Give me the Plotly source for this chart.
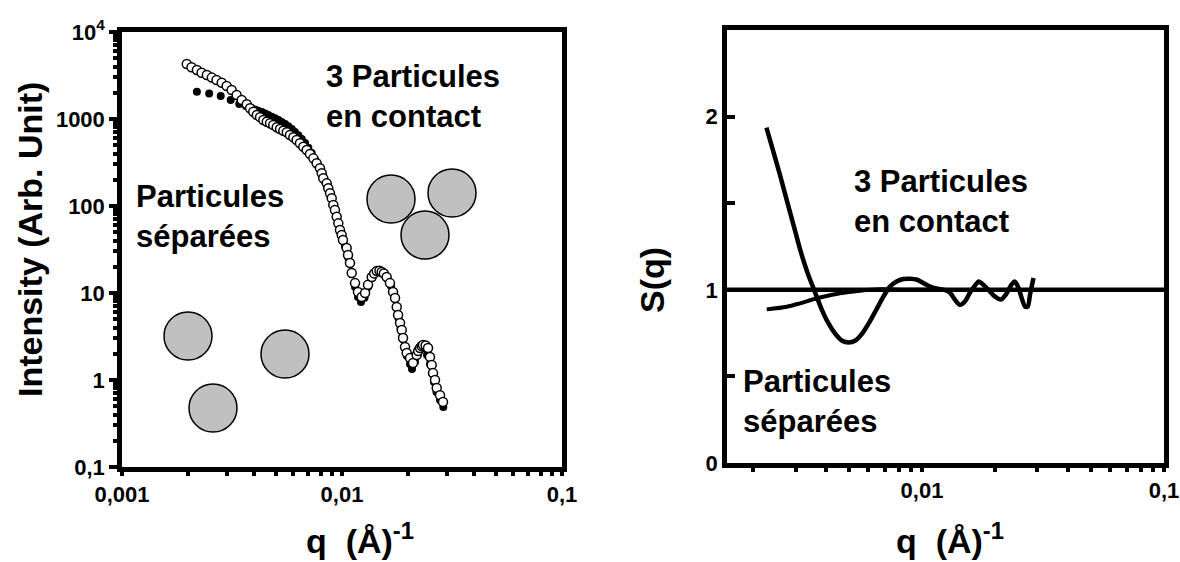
import plotly.graph_objects as go

# ---------------- data ----------------
# Left panel: scattered intensity, open circles (3 particles in contact)
q_open = [0.00197, 0.00207, 0.00219, 0.00230, 0.00243, 0.00256, 0.00269, 0.00284, 0.00299, 0.00315,
          0.00332, 0.00350, 0.00369, 0.00382, 0.00395, 0.00410, 0.00424, 0.00439, 0.00455, 0.00471,
          0.00487, 0.00505, 0.00523, 0.00541, 0.00561, 0.00580, 0.00601, 0.00622, 0.00644, 0.00667,
          0.00691, 0.00715, 0.00741, 0.00767, 0.00794, 0.00809, 0.00822, 0.00852, 0.00866, 0.00882,
          0.00898, 0.00913, 0.00929, 0.00946, 0.00962, 0.00979, 0.00997, 0.01010, 0.01050, 0.01065,
          0.01087, 0.01107, 0.01146, 0.01182, 0.01229, 0.01273, 0.01313, 0.01365, 0.01400, 0.01438,
          0.01480, 0.01515, 0.01550, 0.01596, 0.01652, 0.01706, 0.01742, 0.01773, 0.01798, 0.01836,
          0.01869, 0.01894, 0.01934, 0.01969, 0.02038, 0.02103, 0.02186, 0.02220, 0.02263, 0.02300,
          0.02334, 0.02400, 0.02460, 0.02512, 0.02557, 0.02592, 0.02647, 0.02695, 0.02790, 0.02878]
I_open = [4290, 3930, 3660, 3400, 3200, 2990, 2810, 2610, 2400, 2150,
          1890, 1650, 1480, 1330, 1210, 1110, 1050, 974, 931, 892,
          853, 803, 767, 734, 703, 655, 616, 574, 526, 480,
          440, 396, 353, 310, 271, 238, 208, 182, 160, 140,
          123, 103, 90, 75.3, 63.2, 53.0, 46.4, 40.7, 32.9, 27.3,
          22.1, 17.0, 13.0, 10.3, 9.0, 10.0, 12.4, 15.3, 16.8, 17.9,
          18.0, 17.4, 16.8, 15.3, 13.0, 10.3, 8.76, 6.90, 5.59, 4.52,
          3.75, 3.04, 2.39, 2.04, 1.79, 1.57, 1.94, 2.15, 2.33, 2.45,
          2.53, 2.50, 2.33, 1.84, 1.49, 1.20, 1.00, 0.81, 0.67, 0.56]

# Left panel: filled circles (separated particles)
q_filled = [0.00219, 0.00249, 0.00281, 0.00312, 0.00341, 0.00366, 0.00386, 0.00402, 0.00416, 0.00432,
            0.00447, 0.00462, 0.00479, 0.00496, 0.00514, 0.00532, 0.00551, 0.00570, 0.00591, 0.00611,
            0.00633, 0.00656, 0.00679, 0.00703, 0.00728, 0.00754, 0.00780, 0.00809, 0.00837, 0.00866,
            0.00898, 0.00929, 0.00962, 0.00997, 0.01032, 0.01068, 0.01107, 0.01146, 0.01182, 0.01220,
            0.01266, 0.01313, 0.01369, 0.01442, 0.01520, 0.01601, 0.01670, 0.01724, 0.01769, 0.01806,
            0.01845, 0.01884, 0.01924, 0.01975, 0.02038, 0.02081, 0.02148, 0.02216, 0.02286, 0.02359,
            0.02434, 0.02512, 0.02565, 0.02619, 0.02688, 0.02790, 0.02887]
I_filled = [2060, 1970, 1840, 1650, 1490, 1410, 1340, 1290, 1245, 1204,
            1157, 1112, 1063, 1019, 974, 924, 876, 824, 767, 709,
            649, 589, 530, 468, 407, 342, 288, 239, 194, 157,
            124, 90, 63.8, 46.4, 34.7, 25.3, 17.4, 11.7, 9.0, 7.9,
            8.8, 11.7, 14.9, 17.4, 17.0, 14.9, 12.0, 9.0, 6.72, 5.16,
            3.96, 3.12, 2.39, 1.89, 1.53, 1.34, 1.61, 1.99, 2.27, 2.33,
            1.94, 1.53, 1.20, 0.95, 0.73, 0.59, 0.49]

# Right panel: structure factors
q_contact = [0.002275, 0.002427, 0.002595, 0.002767, 0.002952, 0.003149, 0.003363, 0.003589, 0.003833, 0.004090,
             0.004366, 0.004659, 0.004973, 0.005308, 0.005666, 0.006044, 0.006454, 0.006886, 0.007355, 0.007852,
             0.008375, 0.008935, 0.009545, 0.01019, 0.01087, 0.01160, 0.01239, 0.01301, 0.01366, 0.01434,
             0.01506, 0.01581, 0.01660, 0.01714, 0.01800, 0.01891, 0.01986, 0.02119, 0.02226, 0.02336,
             0.02415, 0.02495, 0.02577, 0.02665, 0.02735, 0.02797, 0.02889]
S_contact = [1.936, 1.800, 1.657, 1.512, 1.368, 1.223, 1.099, 0.996, 0.893, 0.810,
             0.748, 0.707, 0.696, 0.707, 0.748, 0.810, 0.882, 0.955, 1.017, 1.048,
             1.062, 1.064, 1.058, 1.037, 1.017, 1.006, 1.000, 0.986, 0.944, 0.913,
             0.934, 0.986, 1.027, 1.048, 1.027, 0.996, 0.965, 0.944, 0.975, 1.027,
             1.048, 1.017, 0.955, 0.903, 0.903, 0.975, 1.068]

q_sep = [0.002282, 0.002761, 0.003133, 0.003673, 0.004584, 0.005546, 0.006705, 0.0085, 0.011]
S_sep = [0.887, 0.902, 0.922, 0.951, 0.980, 0.995, 1.003, 1.000, 1.000]

S_reference = 1.0

# tick labels
left_x_ticks = [0.001, 0.01, 0.1]
left_x_text = ["0,001", "0,01", "0,1"]
left_y_ticks = [0.1, 1, 10, 100, 1000, 10000]
left_y_text = ["0,1", "1", "10", "100", "1000", "10<sup>4</sup>"]
right_x_ticks = [0.01, 0.1]
right_x_text = ["0,01", "0,1"]
right_y_ticks = [0, 1, 2]
right_y_text = ["0", "1", "2"]
right_y_minor = [0.5, 1.5]

# ---------------- layout helpers ----------------
W, H = 1180, 562


def px(x):
    return x / W


def py(y):
    return 1 - y / H


FONT = "Liberation Sans, Arial, Helvetica, sans-serif"
BLACK = "black"
tick_font = dict(family=FONT, size=22, color=BLACK, weight="bold")

minor_x = [m * 10.0 ** e for e in (-3, -2) for m in range(2, 10)]
minor_y = [m * 10.0 ** e for e in range(-1, 4) for m in range(2, 10)]

fig = go.Figure()

fig.add_trace(go.Scatter(x=q_filled, y=I_filled, mode="markers", xaxis="x", yaxis="y",
                         marker=dict(symbol="circle", size=8, color=BLACK, line=dict(width=0)),
                         showlegend=False, hoverinfo="skip"))
fig.add_trace(go.Scatter(x=q_open, y=I_open, mode="markers", xaxis="x", yaxis="y",
                         marker=dict(symbol="circle", size=9, color="white", line=dict(width=1.5, color=BLACK)),
                         showlegend=False, hoverinfo="skip"))
fig.add_trace(go.Scatter(x=q_sep, y=S_sep, mode="lines", xaxis="x2", yaxis="y2",
                         line=dict(color=BLACK, width=4, shape="spline", smoothing=0.8),
                         showlegend=False, hoverinfo="skip"))
fig.add_trace(go.Scatter(x=q_contact, y=S_contact, mode="lines", xaxis="x2", yaxis="y2",
                         line=dict(color=BLACK, width=4.5, shape="spline", smoothing=0.7),
                         showlegend=False, hoverinfo="skip"))

common = dict(showline=True, linewidth=4.5, linecolor=BLACK, mirror=True, showgrid=False,
              zeroline=False, tickcolor=BLACK, tickfont=tick_font, tickmode="array",
              automargin=False)

fig.update_layout(
    template="none",
    width=W, height=H,
    margin=dict(l=0, r=0, t=0, b=0, pad=0),
    paper_bgcolor="white", plot_bgcolor="white",
    showlegend=False,
    xaxis=dict(type="log", range=[-3, -1], domain=[px(122), px(562)], anchor="y",
               tickvals=left_x_ticks, ticktext=left_x_text, ticks="outside", ticklen=4, tickwidth=4,
               minor=dict(tickmode="array", tickvals=minor_x, ticks="outside", ticklen=4, tickwidth=4,
                          tickcolor=BLACK),
               **common),
    yaxis=dict(type="log", range=[-1, 4], domain=[py(467), py(32)], anchor="x",
               tickvals=left_y_ticks, ticktext=left_y_text, ticks="outside", ticklen=8, tickwidth=4,
               minor=dict(tickmode="array", tickvals=minor_y, ticks="outside", ticklen=4, tickwidth=4,
                          tickcolor=BLACK),
               **common),
    xaxis2=dict(type="log", range=[-2.806, -1], domain=[px(727), px(1164)], anchor="y2",
                tickvals=right_x_ticks, ticktext=right_x_text, ticks="outside", ticklen=4, tickwidth=4,
                minor=dict(tickmode="array", tickvals=minor_x, ticks="outside", ticklen=4, tickwidth=4,
                           tickcolor=BLACK),
                **common),
    yaxis2=dict(range=[0, 2.5], domain=[py(463), py(30)], anchor="x2",
                tickvals=right_y_ticks, ticktext=right_y_text, ticks="inside", ticklen=8, tickwidth=4,
                minor=dict(tickmode="array", tickvals=right_y_minor, ticks="inside", ticklen=8, tickwidth=4,
                           tickcolor=BLACK),
                **common),
)

# S(q) = 1 reference line
fig.add_shape(type="line", xref="x2 domain", yref="y2", x0=0, x1=1, y0=S_reference, y1=S_reference,
              line=dict(color=BLACK, width=4.5))

# decorative particles (pixel centres, radius)
particles = [(188, 336), (213, 408), (285, 354), (391, 199), (452, 193), (425, 235)]
R = 24
for cx, cy in particles:
    fig.add_shape(type="circle", xref="paper", yref="paper",
                  x0=px(cx - R), x1=px(cx + R), y0=py(cy + R), y1=py(cy - R),
                  fillcolor="#c0c0c0", line=dict(color=BLACK, width=1.5), layer="above")

label_font = dict(family=FONT, size=31, color=BLACK, weight="bold")
title_font = dict(family=FONT, size=34, color=BLACK, weight="bold")


def note(text, x, y, font, xanchor="left", angle=0):
    fig.add_annotation(text=text, x=px(x), y=py(y), xref="paper", yref="paper", showarrow=False,
                       xanchor=xanchor, yanchor="middle", align="left", font=font, textangle=angle,
                       borderpad=0)


note("3 Particules<br>en contact", 325, 96, label_font)
note("Particules<br>séparées", 135, 216, label_font)
note("3 Particules<br>en contact", 853, 201, label_font)
note("Particules<br>séparées", 742, 401, label_font)

note("Intensity (Arb. Unit)", 30, 240, title_font, xanchor="center", angle=-90)
note("q\u00a0\u00a0(Å)<sup>-1</sup>", 360, 538, title_font, xanchor="center")
note("S(q)", 652, 280, title_font, xanchor="center", angle=-90)
note("q\u00a0\u00a0(Å)<sup>-1</sup>", 950, 538, title_font, xanchor="center")

fig.write_html("out.html", config=dict(displayModeBar=False),
               post_script="document.body.style.margin='0';")
